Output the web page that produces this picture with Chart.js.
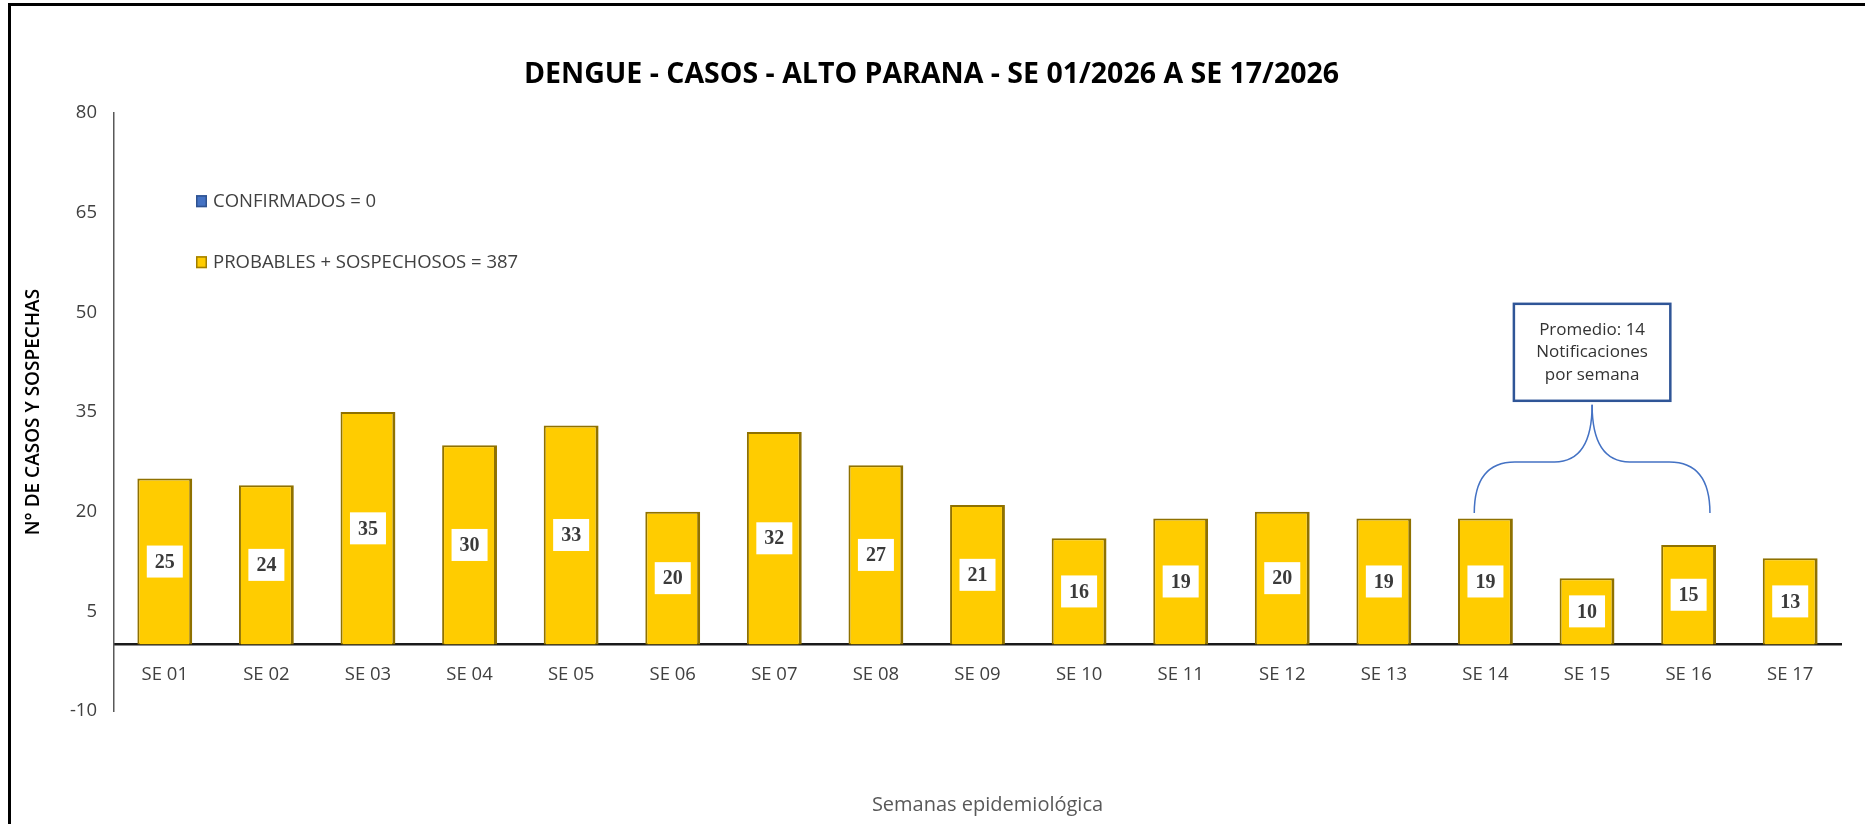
<!DOCTYPE html>
<html>
<head>
<meta charset="utf-8">
<script src="https://cdn.jsdelivr.net/npm/chart.js@4"></script>
<style>
  html, body { margin: 0; padding: 0; background: #fff; overflow: hidden; }
  #wrap { position: absolute; left: 0; top: 0; width: 1865px; height: 824px; }
  #frame { position: absolute; left: 8px; top: 3px; width: 3000px; height: 3000px;
           border-left: 3px solid #000; border-top: 3px solid #000; pointer-events: none; }
</style>
</head>
<body>
<div id="wrap"><canvas id="chart" width="1865" height="824"></canvas></div>
<div id="frame"></div>
<script>
// datos
var categories = ['SE 01', 'SE 02', 'SE 03', 'SE 04', 'SE 05', 'SE 06', 'SE 07', 'SE 08', 'SE 09',
                  'SE 10', 'SE 11', 'SE 12', 'SE 13', 'SE 14', 'SE 15', 'SE 16', 'SE 17'];
var confirmados = [0, 0, 0, 0, 0, 0, 0, 0, 0, 0, 0, 0, 0, 0, 0, 0, 0];
var probablesSospechosos = [25, 24, 35, 30, 33, 20, 32, 27, 21, 16, 19, 20, 19, 19, 10, 15, 13];
var seriesLabels = ['CONFIRMADOS = 0', 'PROBABLES + SOSPECHOSOS = 387'];
var yTicks = [-10, 5, 20, 35, 50, 65, 80];
var promedioRange = ['SE 14', 'SE 16'];
var promedioText = ['Promedio: 14', 'Notificaciones', 'por semana'];

var FONT = "'Open Sans', sans-serif";

// leyenda dentro del area del grafico
var legendInside = {
    id: 'legendInside',
    afterDraw: function(chart) {
        var ctx = chart.ctx, area = chart.chartArea;
        ctx.save();
        ctx.font = '18.5px ' + FONT;
        ctx.textBaseline = 'middle';
        chart.data.datasets.forEach(function(ds, i) {
            var y = area.top + 88 + i * 61;
            var x = area.left + 82;
            ctx.fillStyle = ds.backgroundColor;
            ctx.fillRect(x, y - 6, 11, 12);
            ctx.strokeStyle = ds.legendBorder;
            ctx.lineWidth = 1.5;
            ctx.strokeRect(x + 0.75, y - 5.25, 9.5, 10.5);
            ctx.fillStyle = '#404040';
            ctx.fillText(ds.label, x + 17, y + 1);
        });
        ctx.restore();
    }
};

// etiquetas de valor en cajas blancas
var valueBoxes = {
    id: 'valueBoxes',
    afterDatasetsDraw: function(chart) {
        var ctx = chart.ctx;
        var meta = chart.getDatasetMeta(1);
        ctx.save();
        ctx.font = 'bold 20px "Liberation Serif", serif';
        ctx.textAlign = 'center';
        ctx.textBaseline = 'middle';
        meta.data.forEach(function(bar, i) {
            var cy = (bar.y + bar.base) / 2;
            ctx.fillStyle = '#fff';
            ctx.fillRect(bar.x - 18, cy - 16, 36, 32);
            ctx.fillStyle = '#3a3a3a';
            ctx.fillText(String(probablesSospechosos[i]), bar.x, cy + 1);
        });
        ctx.restore();
    }
};

// llave y cuadro de promedio, titulo del eje x
var promedioNote = {
    id: 'promedioNote',
    afterDraw: function(chart) {
        var ctx = chart.ctx, xs = chart.scales.x, ys = chart.scales.y, area = chart.chartArea;
        var i0 = categories.indexOf(promedioRange[0]);
        var i1 = categories.indexOf(promedioRange[1]);
        var step = xs.getPixelForValue(1) - xs.getPixelForValue(0);
        var cx = (xs.getPixelForValue(i0) + xs.getPixelForValue(i1)) / 2 + 0.05 * step;
        var half = (i1 - i0) / 2 * step + 0.16 * step;
        var yB = ys.getPixelForValue(19.8), yM = ys.getPixelForValue(27.5), yP = ys.getPixelForValue(36.1);
        var r1 = 0.4 * step, r2 = 0.37 * step;

        ctx.save();
        ctx.strokeStyle = '#4472C4';
        ctx.lineWidth = 1.5;
        [-1, 1].forEach(function(s) {
            var xe = cx + s * half;
            ctx.beginPath();
            ctx.moveTo(xe, yB);
            ctx.quadraticCurveTo(xe, yM, xe - s * r1, yM);
            ctx.lineTo(cx + s * r2, yM);
            ctx.quadraticCurveTo(cx, yM, cx, yP);
            ctx.stroke();
        });

        var bt = ys.getPixelForValue(51.3), bb = ys.getPixelForValue(36.7);
        var bw = 1.54 * step;
        ctx.fillStyle = '#fff';
        ctx.fillRect(cx - bw / 2, bt, bw, bb - bt);
        ctx.strokeStyle = '#2F5597';
        ctx.lineWidth = 2.5;
        ctx.strokeRect(cx - bw / 2, bt, bw, bb - bt);

        ctx.fillStyle = '#333';
        ctx.font = '17px ' + FONT;
        ctx.textAlign = 'center';
        ctx.textBaseline = 'middle';
        var mid = (bt + bb) / 2;
        promedioText.forEach(function(t, k) {
            ctx.fillText(t, cx, mid + (k - 1) * 22.5);
        });

        // titulo eje x
        ctx.fillStyle = '#595959';
        ctx.font = '20px ' + FONT;
        ctx.fillText('Semanas epidemiológica', (area.left + area.right) / 2 + 10, 805);
        ctx.restore();
    }
};

var ctx = document.getElementById('chart').getContext('2d');
var chart = new Chart(ctx, {
    type: 'bar',
    data: {
        labels: categories,
        datasets: [{
            label: seriesLabels[0],
            data: confirmados,
            backgroundColor: '#4472C4',
            legendBorder: '#2F528F',
            borderWidth: 0,
            grouped: false,
            categoryPercentage: 1,
            barPercentage: 0.54
        }, {
            label: seriesLabels[1],
            data: probablesSospechosos,
            backgroundColor: '#FFCC00',
            legendBorder: '#A07E00',
            borderColor: '#8F7100',
            borderWidth: { left: 2, right: 3, top: 2, bottom: 0 },
            borderSkipped: 'bottom',
            grouped: false,
            categoryPercentage: 1,
            barPercentage: 0.54
        }]
    },
    options: {
        responsive: false,
        animation: false,
        devicePixelRatio: 1,
        layout: { padding: { left: 22, right: 24, top: 0, bottom: 113 } },
        plugins: {
            legend: { display: false },
            tooltip: { enabled: false },
            title: {
                display: true,
                text: 'DENGUE - CASOS - ALTO PARANA - SE 01/2026 A SE 17/2026',
                color: '#000',
                font: { family: FONT, size: 28.5, weight: 'bold' },
                padding: { top: 58, bottom: 21 }
            }
        },
        scales: {
            x: {
                position: { y: 0 },
                grid: { display: false, drawTicks: false },
                border: { display: true, color: '#1a1a1a', width: 2.5 },
                ticks: { color: '#404040', font: { family: FONT, size: 18.5 }, padding: 19, maxRotation: 0 }
            },
            y: {
                min: yTicks[0],
                max: yTicks[yTicks.length - 1],
                afterBuildTicks: function(scale) {
                    scale.ticks = yTicks.map(function(v) { return { value: v }; });
                },
                afterFit: function(scale) { scale.width = 92; },
                grid: { display: false, drawTicks: false },
                border: { display: true, color: '#595959', width: 1.5 },
                ticks: { color: '#404040', font: { family: FONT, size: 18.5 }, padding: 17 },
                title: {
                    display: true,
                    text: 'N° DE CASOS Y SOSPECHAS',
                    color: '#000',
                    font: { family: FONT, size: 19, weight: '600' },
                    padding: { top: 0, bottom: 0 }
                }
            }
        }
    },
    plugins: [valueBoxes, legendInside, promedioNote]
});
</script>
</body>
</html>
